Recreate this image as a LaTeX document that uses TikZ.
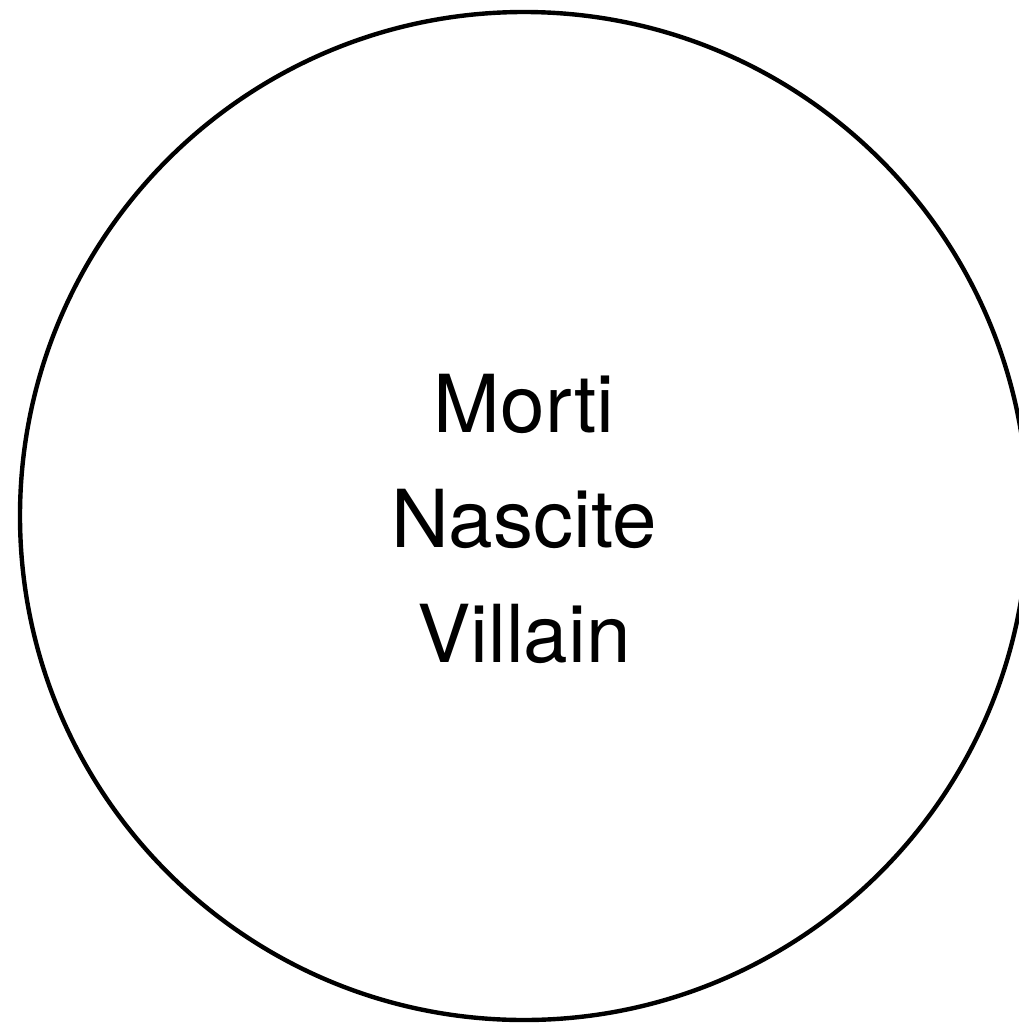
\documentclass[tikz,border=0pt]{standalone}
\usepackage{fontspec}
\setmainfont{TeX Gyre Heros}
\usepackage{tikz}
\usetikzlibrary{positioning}

\begin{document}
\begin{tikzpicture}[x=1pt,y=-1pt,
ring/.style={circle,draw=black,line width=4.4pt,minimum size=1008pt,inner sep=0pt},
label/.style={align=center,font=\fontsize{80}{115}\selectfont,inner sep=0pt}]
\useasboundingbox (0,0) rectangle (1019,1023);
\node[ring] (c) at (524,516) {};
\node[label] (t) at (524,519) {Morti\\Nascite\\Villain};
\end{tikzpicture}
\end{document}
